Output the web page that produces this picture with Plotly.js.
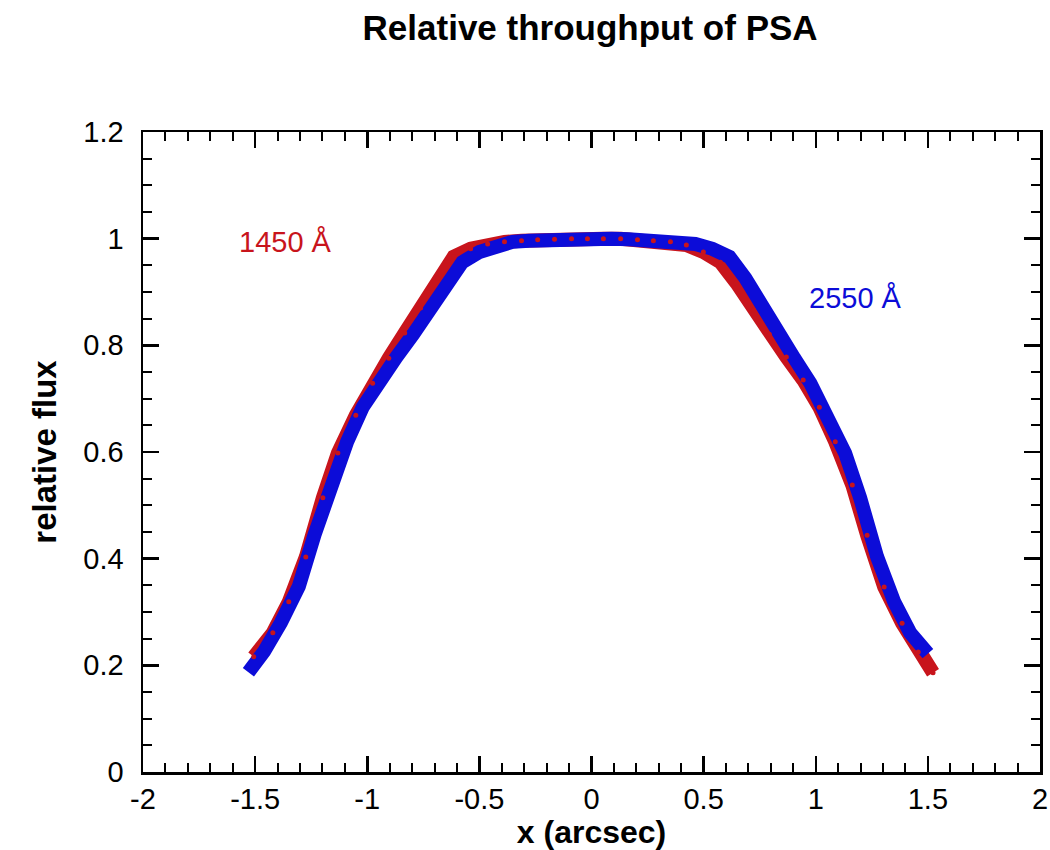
<!DOCTYPE html>
<html>
<head>
<meta charset="utf-8">
<script src="https://cdn.plot.ly/plotly-3.0.1.min.js"></script>
<style>html,body{margin:0;padding:0;background:#fff;}#chart{width:1050px;height:850px;}</style>
</head>
<body>
<div id="chart"></div>
<script>
// 1450 Å series (red)
const x1450 = [-1.506,-1.421,-1.350,-1.274,-1.198,-1.131,-1.051,-0.976,-0.904,-0.833,-0.762,-0.686,-0.615,-0.539,-0.463,-0.388,-0.312,-0.240,-0.165,-0.089,-0.018,
               0.053,0.130,0.205,0.276,0.352,0.423,0.499,0.575,0.646,0.722,0.793,0.869,0.944,1.016,1.087,1.163,1.229,1.305,1.385,1.457,1.523];
const y1450 = [0.216,0.261,0.319,0.403,0.514,0.598,0.669,0.729,0.776,0.823,0.870,0.926,0.966,0.981,0.990,0.994,0.996,0.998,0.999,1.000,1.000,
               1.000,1.000,0.998,0.996,0.994,0.988,0.975,0.956,0.917,0.866,0.821,0.778,0.735,0.684,0.619,0.538,0.444,0.347,0.279,0.225,0.186];
// 2550 Å series (blue)
const x2550 = [-1.530,-1.460,-1.385,-1.305,-1.235,-1.165,-1.090,-1.020,-0.945,-0.870,-0.795,-0.725,-0.650,-0.576,-0.500,-0.425,-0.352,-0.278,-0.205,-0.130,-0.055,
               0.018,0.089,0.165,0.240,0.312,0.388,0.463,0.539,0.615,0.686,0.762,0.833,0.904,0.976,1.051,1.131,1.198,1.274,1.350,1.421,1.500];
const y2550 = [0.187,0.226,0.280,0.348,0.445,0.538,0.619,0.684,0.735,0.778,0.821,0.866,0.917,0.956,0.975,0.988,0.994,0.996,0.998,1.000,1.000,
               1.000,1.000,0.999,0.998,0.996,0.994,0.990,0.981,0.966,0.926,0.870,0.823,0.776,0.729,0.669,0.598,0.514,0.403,0.319,0.261,0.222];
const xTickVals = [-2,-1.5,-1,-0.5,0,0.5,1,1.5,2];
const xTickText = ["-2","-1.5","-1","-0.5","0","0.5","1","1.5","2"];
const yTickVals = [0,0.2,0.4,0.6,0.8,1,1.2];
const yTickText = ["0","0.2","0.4","0.6","0.8","1","1.2"];

const RED = '#c8141c';
const BLUE = '#0c0cd8';
const FONT = 'Liberation Sans, Arial, Helvetica, sans-serif';

const traces = [
  {x: x1450, y: y1450, mode: 'lines', line: {color: RED, width: 14}, hoverinfo: 'skip', showlegend: false},
  {x: x2550, y: y2550, mode: 'lines', line: {color: BLUE, width: 14}, hoverinfo: 'skip', showlegend: false},
  {x: x1450, y: y1450, mode: 'markers', marker: {color: RED, size: 5}, showlegend: false}
];

const axisCommon = {
  showline: true, linecolor: '#000', linewidth: 2.5, mirror: 'ticks',
  ticks: 'inside', ticklen: 16, tickwidth: 2.5, tickcolor: '#000',
  showgrid: false, zeroline: false,
  tickfont: {family: FONT, size: 29, color: '#000'}
};

const layout = {
  width: 1050, height: 850,
  margin: {l: 143, r: 10, t: 132, b: 78},
  paper_bgcolor: '#fff', plot_bgcolor: '#fff',
  title: {text: '<b>Relative throughput of PSA</b>', x: 0.562, xanchor: 'center', y: 0.967, yanchor: 'middle',
          font: {family: FONT, size: 35, color: '#000'}},
  xaxis: Object.assign({}, axisCommon, {
    range: [-2, 2], tickmode: 'array', tickvals: xTickVals, ticktext: xTickText,
    ticklabelstandoff: 0,
    minor: {dtick: 0.1, ticks: 'inside', ticklen: 9, tickwidth: 2, tickcolor: '#000', showgrid: false},
    title: {text: '<b>x (arcsec)</b>', font: {family: FONT, size: 32, color: '#000'}, standoff: 4}
  }),
  yaxis: Object.assign({}, axisCommon, {
    range: [0, 1.2], tickmode: 'array', tickvals: yTickVals, ticktext: yTickText,
    ticklabelstandoff: 11,
    minor: {dtick: 0.05, ticks: 'inside', ticklen: 9, tickwidth: 2, tickcolor: '#000', showgrid: false},
    title: {text: '<b>relative flux</b>', font: {family: FONT, size: 33, color: '#000'}, standoff: 17}
  }),
  annotations: [
    {x: -1.363, y: 0.994, xref: 'x', yref: 'y', text: '1450 Å', showarrow: false,
     font: {family: FONT, size: 29, color: RED}},
    {x: 1.176, y: 0.889, xref: 'x', yref: 'y', text: '2550 Å', showarrow: false,
     font: {family: FONT, size: 29, color: BLUE}}
  ]
};

Plotly.newPlot('chart', traces, layout, {staticPlot: true, displayModeBar: false});
</script>
</body>
</html>
